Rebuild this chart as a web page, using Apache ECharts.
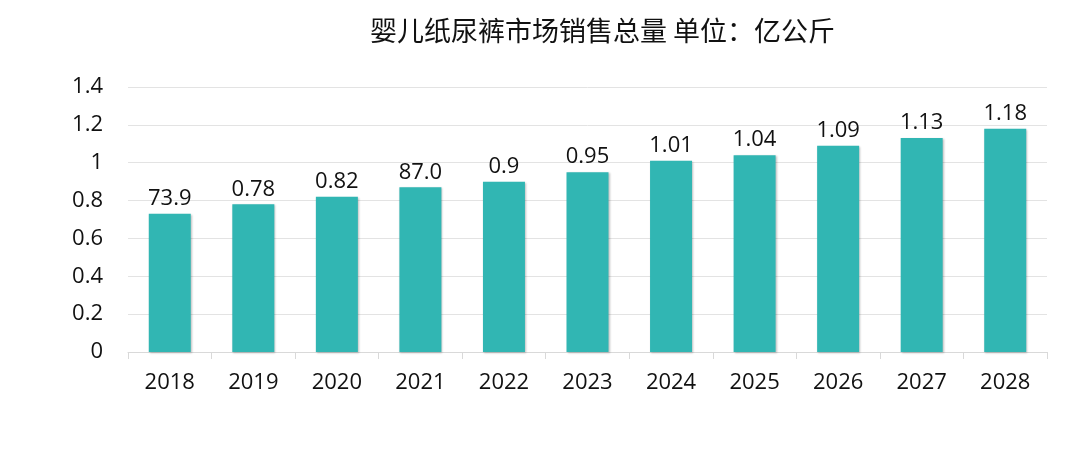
<!DOCTYPE html>
<html><head><meta charset="utf-8">
<script src="https://cdn.jsdelivr.net/npm/echarts@6/dist/echarts.min.js"></script>
<style>html,body{margin:0;padding:0;background:#fff}#c{width:1080px;height:454px}</style>
</head><body><div id="c"></div>
<script>
const categories = ['2018','2019','2020','2021','2022','2023','2024','2025','2026','2027','2028'];
const values = [0.73, 0.78, 0.82, 0.87, 0.9, 0.95, 1.01, 1.04, 1.09, 1.13, 1.18];
const labelTexts = ['73.9','0.78','0.82','87.0','0.9','0.95','1.01','1.04','1.09','1.13','1.18'];
const titleText = '婴儿纸尿裤市场销售总量 单位：亿公斤';

const chart = echarts.init(document.getElementById('c'));
const numFont = '"Open Sans","Noto Sans",sans-serif';
chart.setOption({
  animation: false,
  title: {
    text: titleText, left: 365, top: 12,
    textStyle: {fontFamily: '"Noto Sans CJK SC",sans-serif', fontSize: 27, fontWeight: 'normal', color: '#111'}
  },
  grid: {left: 128, right: 33, top: 87, bottom: 102},
  xAxis: {
    type: 'category', data: categories,
    axisLine: {lineStyle: {color: '#d9d9d9'}},
    axisTick: {show: true, length: 7, lineStyle: {color: '#d9d9d9'}},
    axisLabel: {fontFamily: numFont, fontSize: 22, color: '#111', margin: 20}
  },
  yAxis: {
    type: 'value', min: 0, max: 1.4, interval: 0.2,
    axisLine: {show: false}, axisTick: {show: false},
    splitLine: {lineStyle: {color: '#e3e3e3'}},
    axisLabel: {fontFamily: numFont, fontSize: 22, color: '#111', margin: 25,
      formatter: v => String(Math.round(v * 10) / 10)}
  },
  series: [{
    type: 'bar', data: values, barWidth: 42,
    itemStyle: {color: '#31b6b3', shadowColor: 'rgba(0,0,0,0.25)', shadowBlur: 2, shadowOffsetX: 1, shadowOffsetY: 1},
    label: {show: true, position: 'top', distance: 4, fontFamily: numFont, fontSize: 22, color: '#111',
      formatter: p => labelTexts[p.dataIndex]}
  }]
});
</script></body></html>
